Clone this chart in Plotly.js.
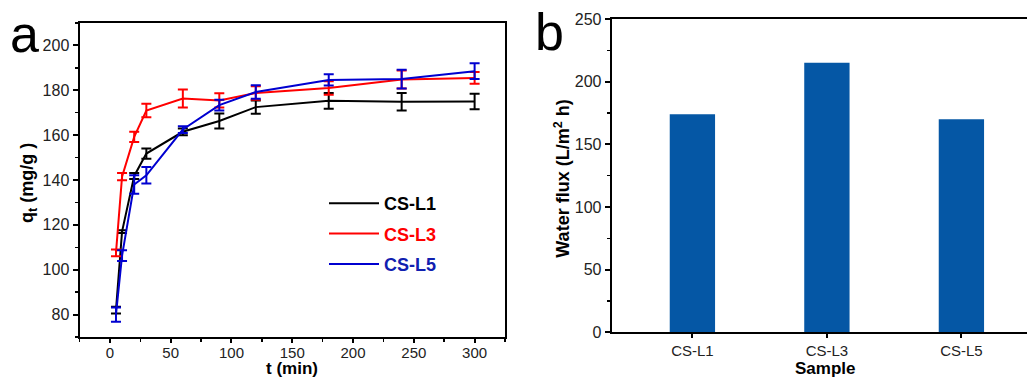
<!DOCTYPE html>
<html>
<head>
<meta charset="utf-8">
<script src="https://cdn.plot.ly/plotly-3.0.1.min.js"></script>
<style>
html, body { margin: 0; padding: 0; overflow: hidden; background: #fff; }
#chart { width: 1045px; height: 379px; }
</style>
</head>
<body>
<div id="chart"></div>
<script>
// ---- Data (panel a: adsorption kinetics) ----
const timeMin = [5, 10, 20, 30, 60, 90, 120, 180, 240, 300];
const qtL1 = [82, 117, 141.8, 151.8, 161.5, 166.3, 172.5, 175.3, 174.9, 175];
const errL1 = [1.5, 0.6, 1.3, 2.3, 1.5, 3.3, 3, 3.5, 3.9, 3.5];
const qtL3 = [107.5, 141.5, 159.2, 171, 176.3, 175.5, 178.8, 181, 184.8, 185.5];
const errL3 = [1.5, 1.6, 2.3, 3, 4, 3.2, 3, 3, 4, 2.6];
const qtL5 = [80, 106.3, 138, 142.1, 162.5, 173.4, 179.2, 184.6, 185, 188.5];
const errL5 = [3.2, 2.4, 4.1, 3.7, 1.5, 2.4, 3, 2.5, 4.2, 3.5];
const seriesNames = ['CS-L1', 'CS-L3', 'CS-L5'];

// ---- Data (panel b: water flux) ----
const samples = ['CS-L1', 'CS-L3', 'CS-L5'];
const waterFlux = [174, 215, 170];

const FONT = 'Liberation Sans, Arial, Helvetica, sans-serif';
const W = 1045, H = 379;
const px = v => v / W;
const py = v => 1 - v / H;

const colors = ['#000000', '#ff0000', '#0000d0'];
const textColors = ['#000000', '#ff0000', '#1020b0'];
const yData = [qtL1, qtL3, qtL5];
const eData = [errL1, errL3, errL5];

const traces = seriesNames.map((n, i) => ({
  type: 'scatter',
  mode: 'lines',
  x: timeMin,
  y: yData[i],
  name: '<b><span style="color:' + textColors[i] + '">' + n + '</span></b>',
  legendgroup: 'g' + i,
  line: { color: colors[i], width: 2 },
  error_y: { type: 'data', array: eData[i], visible: true, color: colors[i], thickness: 2, width: 5 },
  xaxis: 'x', yaxis: 'y'
}));

traces.push({
  type: 'bar',
  x: samples,
  y: waterFlux,
  marker: { color: '#0557a5', line: { width: 0 } },
  width: 0.337,
  showlegend: false,
  xaxis: 'x2', yaxis: 'y2'
});

const tickFont = { family: FONT, size: 16, color: '#222' };
const axBase = {
  showgrid: false, zeroline: false, automargin: false,
  showline: true, linecolor: '#000', linewidth: 2,
  ticks: 'outside', ticklen: 5, tickwidth: 2, tickcolor: '#000',
  tickfont: tickFont
};

const layout = {
  width: W, height: H,
  margin: { l: 0, r: 0, t: 0, b: 0, pad: 0 },
  paper_bgcolor: '#fff', plot_bgcolor: '#fff',
  font: { family: FONT, color: '#000' },
  showlegend: true,
  legend: {
    x: px(324), y: py(185), xanchor: 'left', yanchor: 'top',
    bgcolor: 'rgba(0,0,0,0)', borderwidth: 0,
    font: { family: FONT, size: 18, color: '#000' },
    tracegroupgap: 4, itemwidth: 50
  },
  xaxis: Object.assign({}, axBase, {
    domain: [px(79.5), px(505)], range: [-25, 325],
    tick0: 0, dtick: 50, mirror: true, ticklen: 4, ticklabelstandoff: -3,
    tickfont: { family: FONT, size: 15, color: '#222' },
    minor: { dtick: 25, ticks: 'outside', ticklen: 3, tickwidth: 1.5, tickcolor: '#000', showgrid: false },
    anchor: 'y'
  }),
  yaxis: Object.assign({}, axBase, {
    domain: [py(337), py(23)], range: [70, 210],
    tick0: 0, dtick: 20, mirror: true,
    minor: { dtick: 10, ticks: 'outside', ticklen: 3, tickwidth: 1.5, tickcolor: '#000', showgrid: false },
    anchor: 'x'
  }),
  xaxis2: Object.assign({}, axBase, {
    domain: [px(611.7), px(1042.1)], range: [-0.6, 2.6],
    type: 'category', mirror: true, ticklen: 4,
    tickfont: { family: FONT, size: 15, color: '#222' },
    anchor: 'y2'
  }),
  yaxis2: Object.assign({}, axBase, {
    domain: [py(332.3), py(19)], range: [0, 250],
    tick0: 0, dtick: 50,
    minor: { dtick: 25, ticks: 'outside', ticklen: 3, tickwidth: 1.5, tickcolor: '#000', showgrid: false },
    anchor: 'x2'
  }),
  annotations: [
    { text: 'a', xref: 'paper', yref: 'paper', x: px(24.5), y: py(34), xanchor: 'center', yanchor: 'middle',
      showarrow: false, font: { family: FONT, size: 52, color: '#000' } },
    { text: 'b', xref: 'paper', yref: 'paper', x: px(549), y: py(32), xanchor: 'center', yanchor: 'middle',
      showarrow: false, font: { family: FONT, size: 52, color: '#000' } },
    { text: '<b>q<sub>t</sub> (mg/g )</b>', xref: 'paper', yref: 'paper', x: px(28), y: py(183),
      xanchor: 'center', yanchor: 'middle', textangle: -90, showarrow: false,
      font: { family: FONT, size: 18, color: '#000' } },
    { text: '<b>t (min)</b>', xref: 'paper', yref: 'paper', x: px(292), y: 0,
      xanchor: 'center', yanchor: 'bottom', showarrow: false, borderpad: 0,
      font: { family: FONT, size: 17, color: '#000' } },
    { text: '<b>Water flux (L/m<sup>2</sup> h)</b>', xref: 'paper', yref: 'paper', x: px(561.7), y: py(179),
      xanchor: 'center', yanchor: 'middle', textangle: -90, showarrow: false,
      font: { family: FONT, size: 18, color: '#000' } },
    { text: '<b>Sample</b>', xref: 'paper', yref: 'paper', x: px(825), y: 0,
      xanchor: 'center', yanchor: 'bottom', showarrow: false, borderpad: 0,
      font: { family: FONT, size: 17, color: '#000' } }
  ]
};

Plotly.newPlot('chart', traces, layout, { displayModeBar: false, staticPlot: true });
</script>
</body>
</html>
